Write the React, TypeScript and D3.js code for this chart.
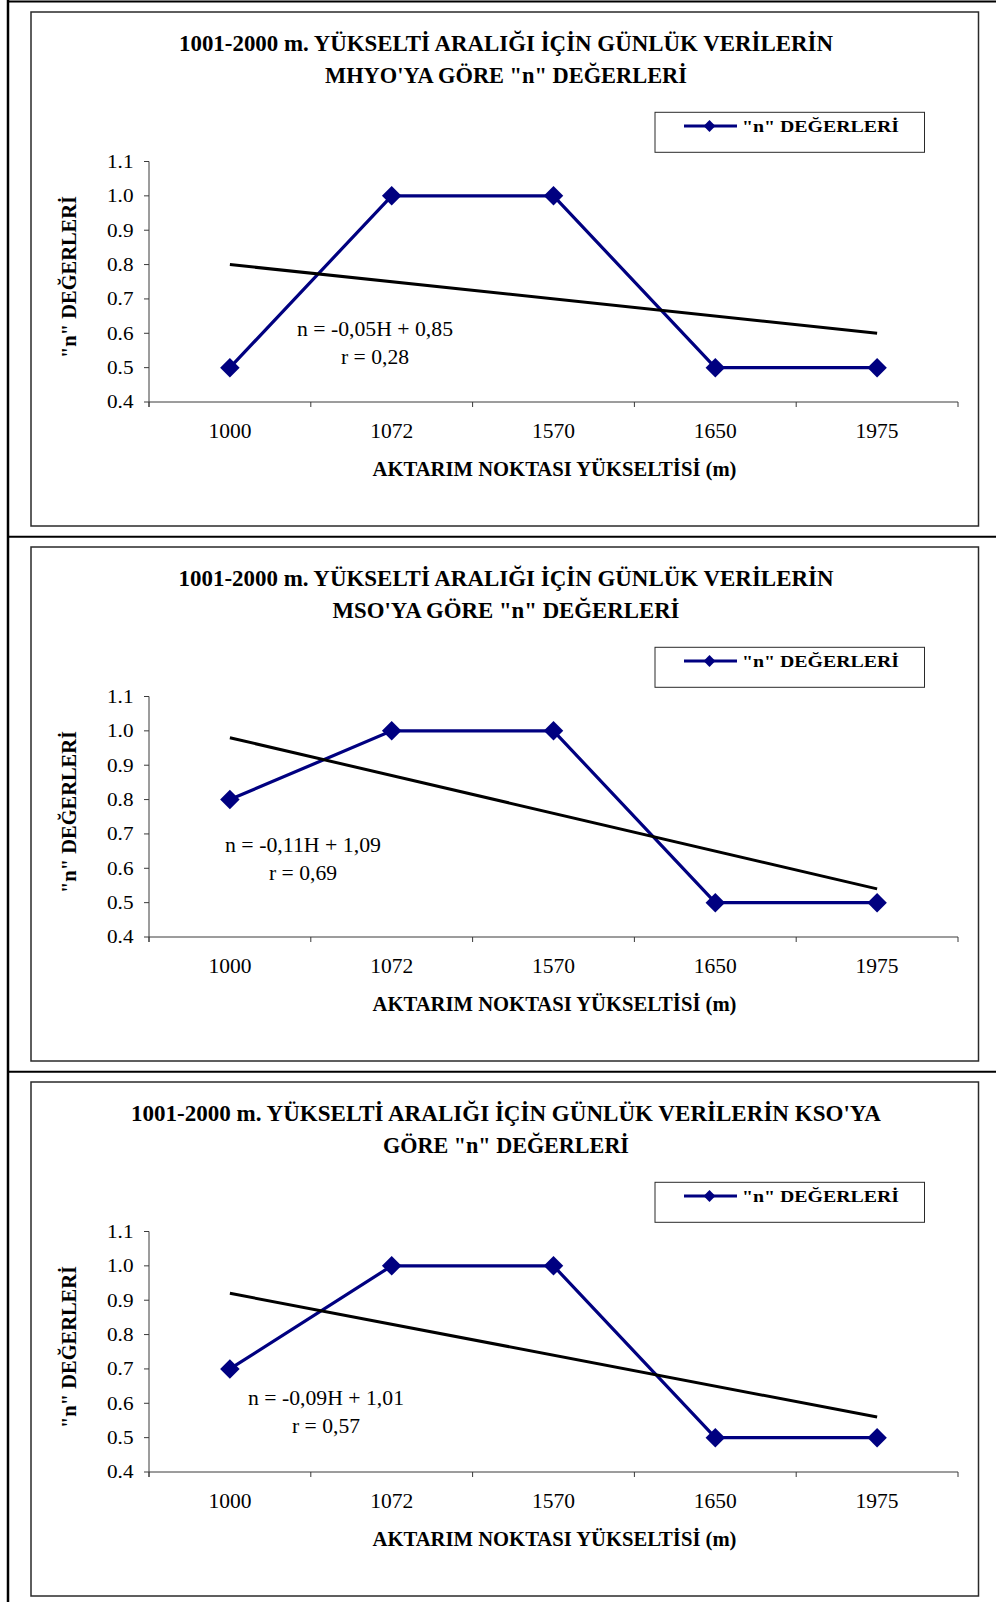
import React from "react";
import * as d3 from "d3";

// ---- data ----
const categories = ["1000", "1072", "1570", "1650", "1975"];
const yTickValues = [0.4, 0.5, 0.6, 0.7, 0.8, 0.9, 1.0, 1.1];
const yTickLabels = ["0.4", "0.5", "0.6", "0.7", "0.8", "0.9", "1.0", "1.1"];

const valuesMHYO = [0.5, 1.0, 1.0, 0.5, 0.5];
const valuesMSO = [0.8, 1.0, 1.0, 0.5, 0.5];
const valuesKSO = [0.7, 1.0, 1.0, 0.5, 0.5];

// trendline values at first and last category
const trendMHYO = [0.8, 0.6];
const trendMSO = [0.98, 0.54];
const trendKSO = [0.92, 0.56];

const titlesMHYO = ["1001-2000 m.  YÜKSELTİ ARALIĞI İÇİN GÜNLÜK VERİLERİN", "MHYO'YA GÖRE \"n\" DEĞERLERİ"];
const titlesMSO = ["1001-2000 m.  YÜKSELTİ ARALIĞI İÇİN GÜNLÜK VERİLERİN", "MSO'YA GÖRE \"n\" DEĞERLERİ"];
const titlesKSO = ["1001-2000 m.  YÜKSELTİ ARALIĞI İÇİN GÜNLÜK VERİLERİN KSO'YA", "GÖRE \"n\" DEĞERLERİ"];

const eqMHYO = ["n = -0,05H + 0,85", "r = 0,28"];
const eqMSO = ["n = -0,11H + 1,09", "r = 0,69"];
const eqKSO = ["n = -0,09H + 1,01", "r = 0,57"];

const legendLabel = "\"n\" DEĞERLERİ";
const xAxisTitle = "AKTARIM NOKTASI YÜKSELTİSİ (m)";
const yAxisTitle = "\"n\" DEĞERLERİ";

// ---- layout ----
const W = 996;
const H = 1602;
const FONT = "'Liberation Serif', 'Times New Roman', Times, serif";
const NAVY = "#000080";

const panels = [
  { offset: 0, values: valuesMHYO, trend: trendMHYO, titles: titlesMHYO, titleW: [654, 362], eq: eqMHYO, eqX: 375, eqY: [336, 364] },
  { offset: 535, values: valuesMSO, trend: trendMSO, titles: titlesMSO, titleW: [655, 347], eq: eqMSO, eqX: 303, eqY: [317, 345] },
  { offset: 1070, values: valuesKSO, trend: trendKSO, titles: titlesKSO, titleW: [750, 246], eq: eqKSO, eqX: 326, eqY: [335, 363] },
];

const x = d3.scaleBand<string>().domain(categories).range([149, 958]).padding(0);
const xc = (c: string) => (x(c) as number) + x.bandwidth() / 2;
const y = d3.scaleLinear().domain([0.4, 1.1]).range([402, 161.5]);

const diamond = d3.symbol().type(d3.symbolSquare).size(190)();
const legendDiamond = d3.symbol().type(d3.symbolSquare).size(70)();

function Panel({ p }: { p: any }) {
  const pts = categories.map((c, i) => ({ c, v: p.values[i] }));
  const line = d3
    .line<{ c: string; v: number }>()
    .x((d) => xc(d.c))
    .y((d) => y(d.v));
  const trendPts = [
    { c: categories[0], v: p.trend[0] },
    { c: categories[categories.length - 1], v: p.trend[1] },
  ];
  const boundaries = [...categories.map((c) => x(c) as number), x.range()[1]];
  return (
    <g transform={`translate(0,${p.offset})`}>
      {/* inner chart box */}
      <rect x={31} y={12} width={947.5} height={514} fill="#fff" stroke="#2a2a2a" strokeWidth={1.5} />
      {/* title */}
      {p.titles.map((t: string, i: number) => (
        <text
          key={i}
          x={506}
          y={50.5 + i * 32}
          textAnchor="middle"
          fontFamily={FONT}
          fontWeight="bold"
          fontSize={24}
          textLength={p.titleW[i]}
          lengthAdjust="spacingAndGlyphs"
          fill="#000"
        >
          {t}
        </text>
      ))}
      {/* legend */}
      <rect x={655} y={112.3} width={269.5} height={40} fill="#fff" stroke="#2a2a2a" strokeWidth={1} />
      <line x1={684} x2={737} y1={126} y2={126} stroke={NAVY} strokeWidth={3.2} />
      <path d={legendDiamond} transform={`translate(709.5,126) rotate(45)`} fill={NAVY} />
      <text x={742} y={131.5} fontFamily={FONT} fontWeight="bold" fontSize={17.5} textLength={157} lengthAdjust="spacingAndGlyphs">
        {legendLabel}
      </text>
      {/* axes */}
      <line x1={149} x2={149} y1={y(1.1)} y2={y(0.4) + 5} stroke="#3a3a3a" strokeWidth={1} />
      <line x1={149} x2={958} y1={y(0.4)} y2={y(0.4)} stroke="#3a3a3a" strokeWidth={1} />
      {yTickValues.map((v, i) => (
        <g key={i}>
          <line x1={144} x2={149} y1={y(v)} y2={y(v)} stroke="#3a3a3a" strokeWidth={1} />
          <text
            x={133.5}
            y={y(v)}
            dy="0.34em"
            textAnchor="end"
            fontFamily={FONT}
            fontSize={19}
            textLength={26.5}
            lengthAdjust="spacingAndGlyphs"
          >
            {yTickLabels[i]}
          </text>
        </g>
      ))}
      {boundaries.map((bx, i) => (
        <line key={i} x1={bx} x2={bx} y1={y(0.4)} y2={y(0.4) + 5} stroke="#3a3a3a" strokeWidth={1} />
      ))}
      {categories.map((c) => (
        <text key={c} x={xc(c)} y={438.3} textAnchor="middle" fontFamily={FONT} fontSize={20} textLength={43} lengthAdjust="spacingAndGlyphs">
          {c}
        </text>
      ))}
      <text x={554.5} y={476} textAnchor="middle" fontFamily={FONT} fontWeight="bold" fontSize={20.5} textLength={364} lengthAdjust="spacingAndGlyphs">
        {xAxisTitle}
      </text>
      <text
        transform={`translate(76,277) rotate(-90)`}
        textAnchor="middle"
        fontFamily={FONT}
        fontWeight="bold"
        fontSize={20.5}
        textLength={162}
        lengthAdjust="spacingAndGlyphs"
      >
        {yAxisTitle}
      </text>
      {/* data series */}
      <path d={line(pts) as string} fill="none" stroke={NAVY} strokeWidth={3.2} />
      {pts.map((d) => (
        <path key={d.c} d={diamond as string} transform={`translate(${xc(d.c)},${y(d.v)}) rotate(45)`} fill={NAVY} />
      ))}
      {/* trendline */}
      <path d={line(trendPts) as string} fill="none" stroke="#000" strokeWidth={3} />
      {/* equation */}
      {p.eq.map((t: string, i: number) => (
        <text
          key={i}
          x={p.eqX}
          y={p.eqY[i]}
          textAnchor="middle"
          fontFamily={FONT}
          fontSize={20}
          textLength={i === 0 ? 156 : 68}
          lengthAdjust="spacingAndGlyphs"
        >
          {t}
        </text>
      ))}
    </g>
  );
}

export default function App() {
  return (
    <svg
      width={W}
      height={H}
      viewBox={`0 0 ${W} ${H}`}
      style={{ position: "absolute", left: 0, top: 0, background: "#fff" }}
    >
      <rect x={0} y={0} width={W} height={H} fill="#fff" />
      {panels.map((p, i) => (
        <Panel key={i} p={p} />
      ))}
      {/* outer frame */}
      <line x1={8} x2={8} y1={0} y2={H} stroke="#000" strokeWidth={2.5} />
      <line x1={8} x2={W} y1={1.5} y2={1.5} stroke="#000" strokeWidth={2} />
      <line x1={8} x2={W} y1={536.7} y2={536.7} stroke="#000" strokeWidth={2} />
      <line x1={8} x2={W} y1={1071.7} y2={1071.7} stroke="#000" strokeWidth={2} />
    </svg>
  );
}
